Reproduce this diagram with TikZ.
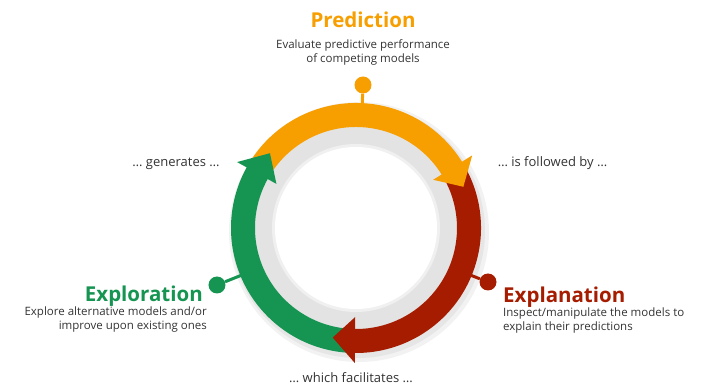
\documentclass[tikz,border=0pt]{standalone}
\usepackage{fontspec}
\setmainfont{Open Sans}
\usetikzlibrary{positioning}

\definecolor{predorange}{RGB}{247,158,0}
\definecolor{explred}{RGB}{166,28,0}
\definecolor{explogreen}{RGB}{22,148,82}
\definecolor{textgray}{RGB}{51,51,51}

\begin{document}
\begin{tikzpicture}[x=1pt, y=1pt,
  title/.style={font=\bfseries\fontsize{20.5}{24}\selectfont, inner sep=0pt},
  desc/.style={font=\fontsize{11.5}{14.5}\selectfont, text=textgray, inner sep=0pt},
  link/.style={font=\fontsize{13}{15}\selectfont, text=textgray, inner sep=0pt, anchor=base},
  pinhead/.style={circle, fill=#1, minimum size=17pt, inner sep=0pt},
  stem/.style={line width=3pt, #1}]
  \useasboundingbox (-356,-157) rectangle (348,228);

  % ring background
  \fill[black, opacity=0.05] (3,-4) circle[radius=130pt];
  \fill[black, opacity=0.05] (2,-3) circle[radius=127pt];
  \fill[black!11] (0,0) circle[radius=101pt];
  \fill[black!6] (0,0) circle[radius=84pt];
  \fill[white] (0,0) circle[radius=81pt];

  % pins
  \node[pinhead=predorange] (predpin) at (7,143) {};
  \node[pinhead=explred] (explpin) at (132,-54) {};
  \node[pinhead=explogreen] (explopin) at (-139,-57) {};
  \coordinate (predfoot) at (6,118);
  \coordinate (explfoot) at (109,-45);
  \coordinate (explofoot) at (-109,-45);
  \draw[stem=predorange] (predpin) -- (predfoot);
  \draw[stem=explred] (explpin) -- (explfoot);
  \draw[stem=explogreen] (explopin) -- (explofoot);

  % arc bodies
  \fill[predorange] (150:125pt) arc[start angle=150, end angle=31, radius=125pt]
    -- (31:101pt) arc[start angle=31, end angle=150, radius=101pt] -- cycle;
  \fill[explred] (30:125pt) arc[start angle=30, end angle=-91.5, radius=125pt]
    -- (-91.5:101pt) arc[start angle=-91.5, end angle=30, radius=101pt] -- cycle;
  \fill[explogreen] (-92:125pt) arc[start angle=-92, end angle=-210, radius=125pt]
    -- (-210:101pt) arc[start angle=-210, end angle=-92, radius=101pt] -- cycle;

  % arc heads
  \fill[predorange] (32:91pt) -- (32:137pt) -- (21:115pt) -- cycle;
  \fill[explred] (-90.5:89pt) -- (-90.5:135pt) -- (-102:112pt) -- cycle;
  \fill[explogreen] (151:91pt) -- (151:136pt) -- (139:114pt) -- cycle;

  % stages
  \node[title, text=predorange, anchor=base] (pred) at (7,200) {Prediction};
  \node[desc, align=center, anchor=base] (preddesc) at (7,165)
    {Evaluate predictive performance\\of competing models};
  \node[title, text=explred, anchor=base west] (expl) at (147,-75) {Explanation};
  \node[desc, align=left, anchor=base west] (expldesc) at (147,-103)
    {Inspect/manipulate the models to\\explain their predictions};
  \node[title, text=explogreen, anchor=base east] (explo) at (-153,-74) {Exploration};
  \node[desc, align=right, anchor=base east] (explodesc) at (-149,-102)
    {Explore alternative models and/or\\improve upon existing ones};

  % links
  \node[link] (generates) at (-180,61) {\dots{} generates \dots};
  \node[link] (followed) at (196.5,61) {\dots{} is followed by \dots};
  \node[link] (facilitates) at (-5,-154) {\dots{} which facilitates \dots};
\end{tikzpicture}
\end{document}
